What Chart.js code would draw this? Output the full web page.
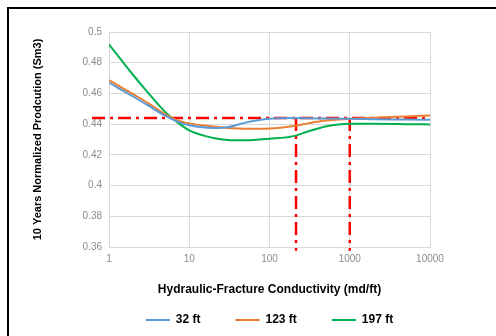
<!DOCTYPE html>
<html>
<head>
<meta charset="utf-8">
<script src="https://cdn.jsdelivr.net/npm/chart.js@4.4.1/dist/chart.umd.min.js"></script>
<style>
    html, body { margin: 0; padding: 0; background: #fff; overflow: hidden; }
    #frame { position: absolute; left: 7px; top: 7px; width: 489px; height: 329px; border-left: 2px solid #000; border-top: 2px solid #000; box-sizing: border-box; }
    #wrap { position: absolute; left: 0; top: 0; width: 496px; height: 336px; }
</style>
</head>
<body>
<div id="frame"></div>
<div id="wrap"><canvas id="grafico" width="496" height="336"></canvas></div>
<script>
// Dados
const condutividade = [1, 2, 3, 5, 7, 10, 20, 30, 50, 100, 200, 300, 500, 1000, 2000, 5000, 10000];
const prod32 = [0.467, 0.458, 0.4525, 0.4455, 0.4418, 0.4393, 0.4375, 0.438, 0.441, 0.4435, 0.444, 0.4438, 0.4437, 0.4435, 0.4432, 0.443, 0.4428];
const prod123 = [0.4687, 0.4595, 0.454, 0.4465, 0.4426, 0.4405, 0.4385, 0.4375, 0.437, 0.4372, 0.4388, 0.4405, 0.4423, 0.4435, 0.4442, 0.445, 0.4457];
const prod197 = [0.492, 0.472, 0.461, 0.448, 0.4415, 0.436, 0.431, 0.4297, 0.4295, 0.4305, 0.4322, 0.4352, 0.4385, 0.4402, 0.4402, 0.44, 0.4398];
const series = ['32 ft', '123 ft', '197 ft'];

// linhas de referência (vermelhas)
const nivelRef = 0.444;
const refInicio = [0.614, 10000];
const condOtima = [214, 1000];
const refFundo = 0.3576;

const yTicks = [0.36, 0.38, 0.4, 0.42, 0.44, 0.46, 0.48, 0.5];
const xTicks = [1, 10, 100, 1000, 10000];

const cores = ['#5b9bd5', '#ed7d31', '#00b050'];
const fonte = "'Liberation Sans', Arial, sans-serif";

const pontos = (ys) => condutividade.map((x, i) => ({ x: x, y: ys[i] }));

const datasets = [prod32, prod123, prod197].map((ys, i) => ({
    label: series[i],
    data: pontos(ys),
    borderColor: cores[i],
    backgroundColor: cores[i],
    borderWidth: 2,
    pointRadius: 0,
    pointStyle: 'line',
    cubicInterpolationMode: 'monotone'
}));

const tracoVermelho = {
    borderColor: '#ff0000',
    backgroundColor: '#ff0000',
    borderWidth: 2.5,
    borderDash: [13, 5, 3, 5],
    pointRadius: 0,
    clip: false,
    tension: 0
};

datasets.push({ ...tracoVermelho, label: 'ref', data: refInicio.map(x => ({ x: x, y: nivelRef })) });
condOtima.forEach(k => {
    datasets.push({ ...tracoVermelho, label: 'ref', data: [{ x: k, y: nivelRef }, { x: k, y: refFundo }] });
});

const ctx = document.getElementById('grafico').getContext('2d');
new Chart(ctx, {
    type: 'line',
    data: { datasets: datasets },
    options: {
        responsive: false,
        animation: false,
        layout: { padding: { top: 32, right: 66, left: 0, bottom: 0 } },
        plugins: {
            legend: {
                position: 'bottom',
                fullSize: false,
                labels: {
                    filter: (item) => item.text !== 'ref',
                    usePointStyle: true,
                    pointStyleWidth: 24,
                    padding: 35,
                    color: '#000',
                    font: { family: fonte, size: 12, weight: 'bold' }
                }
            },
            tooltip: { enabled: false }
        },
        scales: {
            x: {
                type: 'logarithmic',
                min: 1,
                max: 10000,
                afterBuildTicks: (s) => { s.ticks = xTicks.map(v => ({ value: v })); },
                afterFit: (s) => { s.height = 32; },
                grid: { color: '#d9d9d9', drawTicks: false },
                border: { color: '#d9d9d9' },
                ticks: {
                    padding: 6,
                    maxRotation: 0,
                    color: '#8c8c8c',
                    font: { family: fonte, size: 10 },
                    callback: (v) => String(v)
                },
                title: {
                    display: true,
                    text: 'Hydraulic-Fracture Conductivity (md/ft)',
                    color: '#000',
                    font: { family: fonte, size: 12, weight: 'bold' },
                    padding: { top: 0, bottom: -18 }
                }
            },
            y: {
                min: 0.36,
                max: 0.5,
                afterBuildTicks: (s) => { s.ticks = yTicks.map(v => ({ value: v })); },
                afterFit: (s) => { s.width = 109; },
                grid: { color: '#d9d9d9', drawTicks: false },
                border: { color: '#d9d9d9' },
                ticks: {
                    padding: 7,
                    color: '#8c8c8c',
                    font: { family: fonte, size: 10 },
                    callback: (v) => String(+v.toFixed(2))
                },
                title: {
                    display: true,
                    text: '10 Years Normalized Prodcution (Sm3)',
                    color: '#000',
                    font: { family: fonte, size: 11, weight: 'bold' },
                    padding: { top: 31, bottom: 0 }
                }
            }
        }
    }
});
</script>
</body>
</html>
